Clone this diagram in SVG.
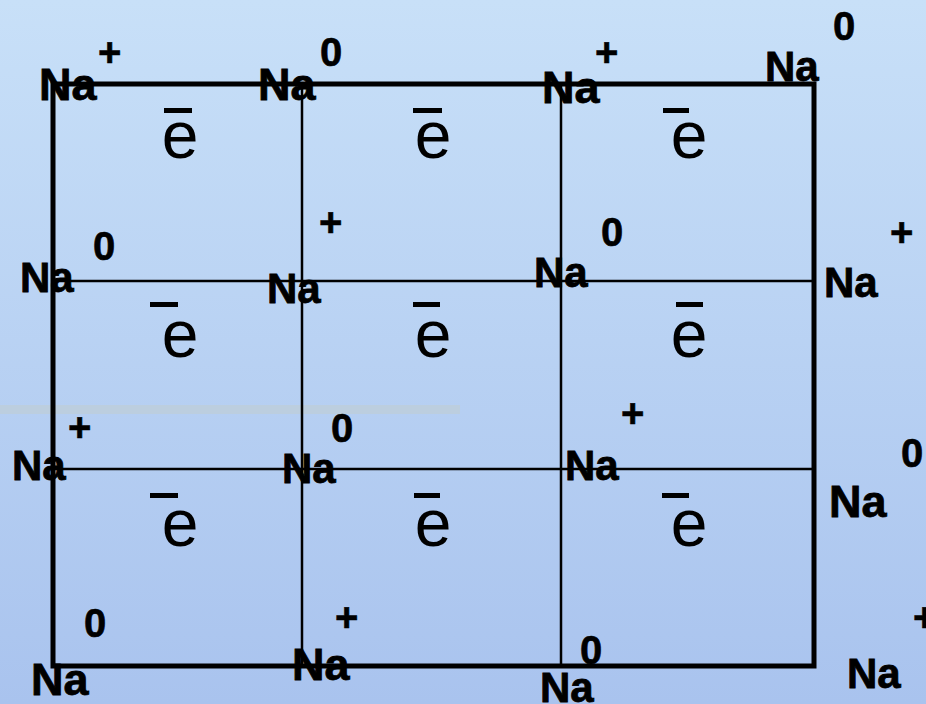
<svg xmlns="http://www.w3.org/2000/svg" width="926" height="704" viewBox="0 0 926 704">
<defs>
<linearGradient id="bg" x1="0" y1="0" x2="0" y2="1">
<stop offset="0" stop-color="#c8e0f8"/>
<stop offset="1" stop-color="#a9c3ee"/>
</linearGradient>
</defs>
<style>
.na{font-family:"Liberation Sans",Arial,sans-serif;font-weight:bold;font-size:42px;fill:#000;stroke:#000;stroke-width:0.8}
.big{font-size:45px}
.q{font-family:"Liberation Sans",Arial,sans-serif;font-weight:bold;font-size:40px;fill:#000;stroke:#000;stroke-width:0.6}
.e{font-family:"Liberation Sans",Arial,sans-serif;font-size:66px;fill:#000;text-anchor:middle}
.bar{fill:#000}
.thick{stroke:#000;stroke-width:5;fill:none}
.thin{stroke:#000;stroke-width:2.5;fill:none}
</style>
<rect x="0" y="0" width="926" height="704" fill="url(#bg)"/>
<rect x="0" y="405" width="460" height="9" fill="#c4ccc8" opacity="0.45"/>
<g id="connectors">
<line class="thin" x1="302" y1="84" x2="302" y2="666"/>
<line class="thin" x1="561" y1="84" x2="561" y2="666"/>
<line class="thin" x1="53" y1="281" x2="814" y2="281"/>
<line class="thin" x1="53" y1="469" x2="814" y2="469"/>
<rect class="thick" x="53" y="84" width="761" height="582"/>
</g>
<g id="na-r1c1"><text class="na big" x="39" y="100">Na</text><text class="q" x="98" y="66">+</text></g>
<g id="na-r1c2"><text class="na big" x="258" y="100">Na</text><text class="q" x="320" y="66">0</text></g>
<g id="na-r1c3"><text class="na big" x="542" y="103">Na</text><text class="q" x="595" y="66">+</text></g>
<g id="na-r1c4"><text class="na" x="765" y="81">Na</text><text class="q" x="833" y="40">0</text></g>
<g id="na-r2c1"><text class="na" x="20" y="292">Na</text><text class="q" x="93" y="260">0</text></g>
<g id="na-r2c2"><text class="na" x="267" y="303">Na</text><text class="q" x="319" y="236">+</text></g>
<g id="na-r2c3"><text class="na" x="534" y="287">Na</text><text class="q" x="601" y="246">0</text></g>
<g id="na-r2c4"><text class="na" x="824" y="297">Na</text><text class="q" x="890" y="246">+</text></g>
<g id="na-r3c1"><text class="na" x="12" y="480">Na</text><text class="q" x="68" y="441">+</text></g>
<g id="na-r3c2"><text class="na" x="282" y="483">Na</text><text class="q" x="331" y="442">0</text></g>
<g id="na-r3c3"><text class="na" x="565" y="480">Na</text><text class="q" x="621" y="427">+</text></g>
<g id="na-r3c4"><text class="na big" x="829" y="517">Na</text><text class="q" x="901" y="467">0</text></g>
<g id="na-r4c1"><text class="na big" x="31" y="695">Na</text><text class="q" x="84" y="637">0</text></g>
<g id="na-r4c2"><text class="na big" x="292" y="680">Na</text><text class="q" x="335" y="631">+</text></g>
<g id="na-r4c3"><text class="na" x="540" y="702">Na</text><text class="q" x="580" y="664">0</text></g>
<g id="na-r4c4"><text class="na" x="847" y="688">Na</text><text class="q" x="913" y="631">+</text></g>
<g id="e-r1c1"><rect class="bar" x="164" y="108" width="28" height="5"/><text class="e" x="180" y="158">e</text></g>
<g id="e-r1c2"><rect class="bar" x="413" y="108" width="29" height="5"/><text class="e" x="433" y="158">e</text></g>
<g id="e-r1c3"><rect class="bar" x="663" y="108" width="26" height="5"/><text class="e" x="689" y="158">e</text></g>
<g id="e-r2c1"><rect class="bar" x="150" y="302" width="28" height="5"/><text class="e" x="180" y="357">e</text></g>
<g id="e-r2c2"><rect class="bar" x="413" y="302" width="27" height="5"/><text class="e" x="433" y="357">e</text></g>
<g id="e-r2c3"><rect class="bar" x="676" y="302" width="27" height="5"/><text class="e" x="689" y="357">e</text></g>
<g id="e-r3c1"><rect class="bar" x="150" y="493" width="28" height="5"/><text class="e" x="180" y="546">e</text></g>
<g id="e-r3c2"><rect class="bar" x="414" y="493" width="26" height="5"/><text class="e" x="433" y="546">e</text></g>
<g id="e-r3c3"><rect class="bar" x="662" y="493" width="27" height="5"/><text class="e" x="689" y="546">e</text></g>
</svg>
